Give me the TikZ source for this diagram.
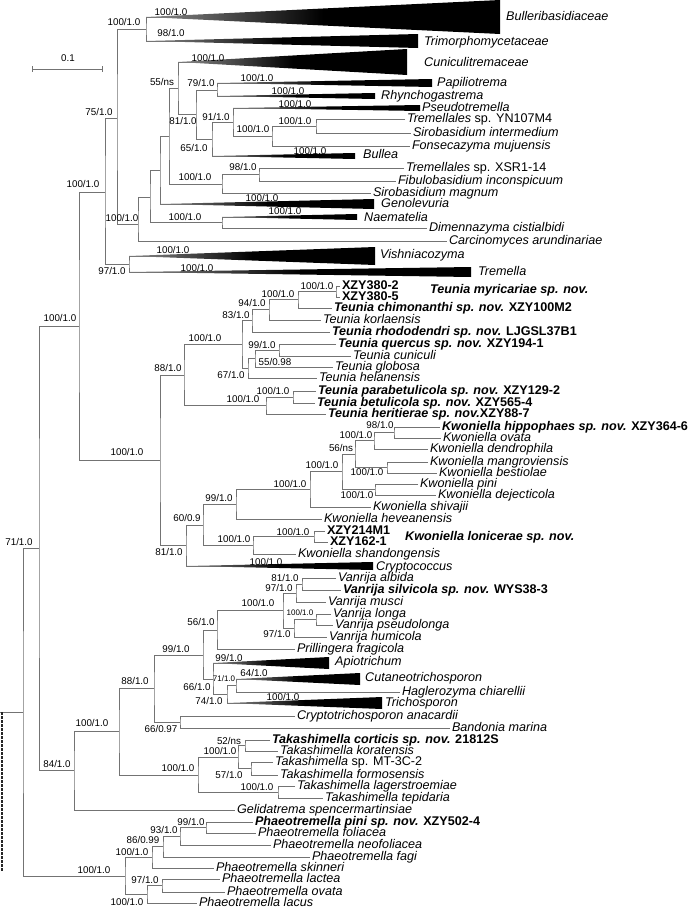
\documentclass[tikz,border=0pt]{standalone}
\usepackage{fontspec}
\setmainfont{Liberation Sans}
\newcommand\taxfont{\fontsize{12.6}{14}\selectfont}
\newcommand\bsfont{\fontsize{9.8}{11}\selectfont}

\begin{document}
\begin{tikzpicture}[x=1pt,y=-1pt,
  br/.style={draw=black!55,line width=0.75pt},
  leaf/.style={anchor=west,inner sep=1pt,outer sep=1pt,text height=8.5pt,text depth=2pt,font=\taxfont\itshape},
  grp/.style={anchor=west,inner sep=0pt,text height=8.5pt,text depth=2pt,font=\taxfont\itshape},
  bs/.style={inner sep=0pt,font=\bsfont},
  bss/.style={inner sep=0pt,font=\fontsize{8}{9}\selectfont},
  clade/.style={left color=black!45,right color=black,middle color=black}]
 \fill[white] (0,0) rectangle (690,910);
 \useasboundingbox (0,0) rectangle (690,910);

 % scale bar
 \coordinate (sb1) at (32,69); \coordinate (sb2) at (102,69);
 \draw[br] (sb1) -- (sb2);
 \draw[br] (32,66) -- (32,72); \draw[br] (102,66) -- (102,72);
 \node[bs] (sbl) at (68,58) {0.1};

 % upper part
 \coordinate (a1) at (146,29);  \coordinate (a2) at (217,90);
 \coordinate (a3) at (316,126); \coordinate (a4) at (272,136);
 \coordinate (a5) at (233,122); \coordinate (a6) at (212,139);
 \coordinate (a7) at (196,114); \coordinate (a8) at (178,88);
 \coordinate (a9) at (259,174.5); \coordinate (a10) at (222,184);
 \coordinate (a11) at (169,136); \coordinate (a12) at (160,170);
 \coordinate (a13) at (222,222); \coordinate (a14) at (150,197);
 \coordinate (a15) at (138,224); \coordinate (a16) at (117,118);
 \coordinate (a17) at (129,264); \coordinate (a18) at (105,192);
 \coordinate (a19) at (79,326);  \coordinate (a20) at (39,548);
 \coordinate (root) at (23,712);

 \coordinate (bullE) at (500,17); \coordinate (trimE) at (418,41);
 \coordinate (cuniE) at (407,62); \coordinate (papiE) at (432,83);
 \coordinate (rhynE) at (375,96); \coordinate (pseuE) at (420,108);
 \coordinate (bullaE) at (355,156); \coordinate (genoE) at (374,204);
 \coordinate (naemE) at (357,217); \coordinate (vishE) at (375,256);
 \coordinate (tremE) at (471,272);

 \node[leaf] (yn107) at (405,119) {Tremellales \upshape sp. YN107M4};
 \node[leaf] (sint) at (411,133) {Sirobasidium intermedium};
 \node[leaf] (fons) at (410,146) {Fonsecazyma mujuensis};
 \node[leaf] (xsr) at (404,168) {Tremellales \upshape sp. XSR1-14};
 \node[leaf] (fibu) at (396,181) {Fibulobasidium inconspicuum};
 \node[leaf] (smag) at (371,193) {Sirobasidium magnum};
 \node[leaf] (dime) at (427,228) {Dimennazyma cistialbidi};
 \node[leaf] (carc) at (447,241) {Carcinomyces arundinariae};

 \draw[br] (trimE) -| (a1) |- (bullE);
 \draw[br] (papiE) -| (a2) |- (rhynE);
 \draw[br] (yn107) -| (a3) |- (sint);
 \draw[br] (a3) -| (a4) |- (fons);
 \draw[br] (pseuE) -| (a5) |- (a4);
 \draw[br] (a5) -| (a6) |- (bullaE);
 \draw[br] (a2) -| (a7) |- (a6);
 \draw[br] (cuniE) -| (a8) |- (a7);
 \draw[br] (xsr) -| (a9) |- (fibu);
 \draw[br] (a9) -| (a10) |- (smag);
 \draw[br] (a8) -| (a11) |- (a10);
 \draw[br] (a11) -| (a12) |- (genoE);
 \draw[br] (naemE) -| (a13) |- (dime);
 \draw[br] (a12) -| (a14) |- (a13);
 \draw[br] (a14) -| (a15) |- (carc);
 \draw[br] (a1) -| (a16) |- (a15);
 \draw[br] (vishE) -| (a17) |- (tremE);
 \draw[br] (a16) -| (a18) |- (a17);

 \shade[clade] (146,17) -- (500,0) -- (500,34) -- cycle;
 \shade[clade] (146,41) -- (418,34) -- (418,48) -- cycle;
 \shade[clade] (178,62) -- (407,49) -- (407,75) -- cycle;
 \shade[clade] (217,83) -- (432,79) -- (432,87) -- cycle;
 \shade[clade] (217,96) -- (375,93) -- (375,99) -- cycle;
 \shade[clade] (233,108) -- (420,105) -- (420,111) -- cycle;
 \shade[clade] (212,156) -- (355,153) -- (355,159) -- cycle;
 \shade[clade] (160,204) -- (374,199) -- (374,209) -- cycle;
 \shade[clade] (222,217) -- (357,214) -- (357,220) -- cycle;
 \shade[clade] (129,256) -- (375,247) -- (375,265) -- cycle;
 \shade[clade] (129,272) -- (471,267) -- (471,277) -- cycle;

 \node[grp] (bull) at (506,17) {Bulleribasidiaceae};
 \node[grp] (trim) at (424,42) {Trimorphomycetaceae};
 \node[grp] (cuni) at (424,63) {Cuniculitremaceae};
 \node[grp] (papi) at (437,83) {Papiliotrema};
 \node[grp] (rhyn) at (381,96) {Rhynchogastrema};
 \node[grp] (pseu) at (422,108) {Pseudotremella};
 \node[grp] (bulla) at (363,155) {Bullea};
 \node[grp] (geno) at (381,204.5) {Genolevuria};
 \node[grp] (naem) at (364,218) {Naematelia};
 \node[grp] (vish) at (380,255) {Vishniacozyma};
 \node[grp] (trem) at (478,272) {Tremella};

 % Teunia
 \coordinate (b1) at (336,291.5);
 \node[leaf] (x3802) at (340,286) {\upshape\bfseries XZY380-2};
 \node[leaf] (x3805) at (340,297) {\upshape\bfseries XZY380-5};
 \draw[br] (x3802) -| (b1) |- (x3805);
 \node[grp] (myri) at (430,290) {\bfseries Teunia myricariae sp. nov.};
 \coordinate (b2) at (298,299);
 \node[leaf] (chim) at (332,308) {\bfseries Teunia chimonanthi sp. nov. \upshape XZY100M2};
 \draw[br] (b1) -| (b2) |- (chim);
 \coordinate (b3) at (269,309);
 \node[leaf] (korl) at (321,320) {Teunia korlaensis};
 \draw[br] (b2) -| (b3) |- (korl);
 \coordinate (b4) at (252,320);
 \node[leaf] (rhod) at (330,332) {\bfseries Teunia rhododendri sp. nov. \upshape LJGSL37B1};
 \draw[br] (b3) -| (b4) |- (rhod);
 \coordinate (b5) at (279,350);
 \node[leaf] (quer) at (336,344) {\bfseries Teunia quercus sp. nov. \upshape XZY194-1};
 \node[leaf] (tcun) at (351,356) {Teunia cuniculi};
 \draw[br] (quer) -| (b5) |- (tcun);
 \coordinate (b6) at (255,358);
 \node[leaf] (glob) at (333,367) {Teunia globosa};
 \draw[br] (b5) -| (b6) |- (glob);
 \coordinate (b7) at (248,368);
 \node[leaf] (hela) at (317,378) {Teunia helanensis};
 \draw[br] (b6) -| (b7) |- (hela);
 \coordinate (b8) at (242,344);
 \draw[br] (b4) -| (b8) |- (b7);
 \coordinate (b9) at (293,397);
 \node[leaf] (parb) at (316,391) {\bfseries Teunia parabetulicola sp. nov. \upshape XZY129-2};
 \node[leaf] (betu) at (315,403) {\bfseries Teunia betulicola sp. nov. \upshape XZY565-4};
 \draw[br] (parb) -| (b9) |- (betu);
 \coordinate (b10) at (266,405.5);
 \node[leaf] (heri) at (326,414) {\bfseries Teunia heritierae sp. nov.\upshape XZY88-7};
 \draw[br] (b9) -| (b10) |- (heri);
 \coordinate (b11) at (184,375);
 \draw[br] (b8) -| (b11) |- (b10);

 % Kwoniella
 \coordinate (k1) at (394,432.5);
 \node[leaf] (hipp) at (440,427) {\bfseries Kwoniella hippophaes sp. nov. \upshape XZY364-6};
 \node[leaf] (kova) at (441,438) {Kwoniella ovata};
 \draw[br] (hipp) -| (k1) |- (kova);
 \coordinate (k2) at (374,440.5);
 \node[leaf] (dend) at (428,449) {Kwoniella dendrophila};
 \draw[br] (k1) -| (k2) |- (dend);
 \coordinate (k3) at (387,467.5);
 \node[leaf] (mang) at (428,462) {Kwoniella mangroviensis};
 \node[leaf] (best) at (437,473) {Kwoniella bestiolae};
 \draw[br] (mang) -| (k3) |- (best);
 \coordinate (k4) at (355,454);
 \draw[br] (k2) -| (k4) |- (k3);
 \coordinate (k5) at (375,489);
 \node[leaf] (kpin) at (418,484) {Kwoniella pini};
 \node[leaf] (deje) at (436,495) {Kwoniella dejecticola};
 \draw[br] (kpin) -| (k5) |- (deje);
 \coordinate (k6) at (342,471.5);
 \draw[br] (k4) -| (k6) |- (k5);
 \coordinate (k7) at (310,489);
 \node[leaf] (shiv) at (371,507) {Kwoniella shivajii};
 \draw[br] (k6) -| (k7) |- (shiv);
 \coordinate (k8) at (236,504);
 \node[leaf] (heve) at (322,519) {Kwoniella heveanensis};
 \draw[br] (k7) -| (k8) |- (heve);
 \coordinate (k9) at (314,536.5);
 \node[leaf] (x214) at (325,531) {\upshape\bfseries XZY214M1};
 \node[leaf] (x162) at (328,542) {\upshape\bfseries XZY162-1};
 \draw[br] (x214) -| (k9) |- (x162);
 \node[grp] (loni) at (405,537) {\bfseries Kwoniella lonicerae sp. nov.};
 \coordinate (k10) at (253,545);
 \node[leaf] (shan) at (296,554) {Kwoniella shandongensis};
 \draw[br] (k9) -| (k10) |- (shan);
 \coordinate (k11) at (203,525);
 \draw[br] (k8) -| (k11) |- (k10);
 \coordinate (k12) at (186,545.5);
 \coordinate (crypE) at (373,566);
 \draw[br] (k11) -| (k12) |- (crypE);
 \shade[clade] (186,566) -- (373,562) -- (373,570) -- cycle;
 \node[grp] (cryp) at (376,567) {Cryptococcus};
 \coordinate (b12) at (160,460);
 \draw[br] (b11) -| (b12) |- (k12);
 \draw[br] (a18) -| (a19) |- (b12);

 % Vanrija to Bandonia
 \coordinate (v1) at (302,584);
 \node[leaf] (albi) at (336,578) {Vanrija albida};
 \node[leaf] (silv) at (341,590) {\bfseries Vanrija silvicola sp. nov. \upshape WYS38-3};
 \draw[br] (albi) -| (v1) |- (silv);
 \coordinate (v2) at (296,593);
 \node[leaf] (musc) at (326,602) {Vanrija musci};
 \draw[br] (v1) -| (v2) |- (musc);
 \coordinate (v3) at (316,619.5);
 \node[leaf] (vlon) at (331,614) {Vanrija longa};
 \node[leaf] (vpse) at (333,625) {Vanrija pseudolonga};
 \draw[br] (vlon) -| (v3) |- (vpse);
 \coordinate (v4) at (294,628);
 \node[leaf] (humi) at (327,637) {Vanrija humicola};
 \draw[br] (v3) -| (v4) |- (humi);
 \coordinate (v5) at (283,610.5);
 \draw[br] (v2) -| (v5) |- (v4);
 \coordinate (v6) at (217,630);
 \node[leaf] (pril) at (295,649) {Prillingera fragicola};
 \draw[br] (v5) -| (v6) |- (pril);
 \coordinate (t1) at (236,685.5);
 \coordinate (cutaE) at (360,679);
 \node[leaf] (hagl) at (400,692) {Haglerozyma chiarellii};
 \draw[br] (cutaE) -| (t1) |- (hagl);
 \coordinate (t2) at (227,694);
 \coordinate (trchE) at (382,703);
 \draw[br] (t1) -| (t2) |- (trchE);
 \coordinate (t3) at (213,679);
 \coordinate (apioE) at (329,663);
 \draw[br] (apioE) -| (t3) |- (t2);
 \coordinate (t4) at (203,655);
 \draw[br] (v6) -| (t4) |- (t3);
 \shade[clade] (213,663) -- (329,657) -- (329,669) -- cycle;
 \shade[clade] (236,679) -- (360,673) -- (360,685) -- cycle;
 \shade[clade] (227,703) -- (382,697) -- (382,709) -- cycle;
 \node[grp] (apio) at (335,662) {Apiotrichum};
 \node[grp] (cuta) at (365,678) {Cutaneotrichosporon};
 \node[grp] (trch) at (385,703) {Trichosporon};
 \coordinate (t5) at (180,722);
 \node[leaf] (cryt) at (295,716) {Cryptotrichosporon anacardii};
 \node[leaf] (band) at (450,728) {Bandonia marina};
 \draw[br] (cryt) -| (t5) |- (band);
 \coordinate (t6) at (154,688.5);
 \draw[br] (t4) -| (t6) |- (t5);

 % Takashimella
 \coordinate (s1) at (245,745.5);
 \node[leaf] (cort) at (270,740) {\bfseries Takashimella corticis sp. nov. \upshape 21812S};
 \node[leaf] (kora) at (278,751) {Takashimella koratensis};
 \draw[br] (cort) -| (s1) |- (kora);
 \coordinate (s2) at (251,768.5);
 \node[leaf] (mt3c) at (273,762) {Takashimella \upshape sp. MT-3C-2};
 \node[leaf] (form) at (278,775) {Takashimella formosensis};
 \draw[br] (mt3c) -| (s2) |- (form);
 \coordinate (s3) at (238,757);
 \draw[br] (s1) -| (s3) |- (s2);
 \coordinate (s4) at (278,792);
 \node[leaf] (lage) at (295,786) {Takashimella lagerstroemiae};
 \node[leaf] (tepi) at (323,798) {Takashimella tepidaria};
 \draw[br] (lage) -| (s4) |- (tepi);
 \coordinate (s5) at (198,775);
 \draw[br] (s3) -| (s5) |- (s4);
 \coordinate (t7) at (119,731);
 \draw[br] (t6) -| (t7) |- (s5);
 \coordinate (t8) at (74,770);
 \node[leaf] (geli) at (235,810) {Gelidatrema spencermartinsiae};
 \draw[br] (t7) -| (t8) |- (geli);
 \draw[br] (a19) -| (a20) |- (t8);

 % Phaeotremella
 \coordinate (p1) at (206,827.5);
 \node[leaf] (ppin) at (253,822) {\bfseries Phaeotremella pini sp. nov. \upshape XZY502-4};
 \node[leaf] (foli) at (256,833) {Phaeotremella foliacea};
 \draw[br] (ppin) -| (p1) |- (foli);
 \coordinate (p2) at (180,836);
 \node[leaf] (neof) at (271,845) {Phaeotremella neofoliacea};
 \draw[br] (p1) -| (p2) |- (neof);
 \coordinate (p3) at (163,846.5);
 \node[leaf] (fagi) at (310,857) {Phaeotremella fagi};
 \draw[br] (p2) -| (p3) |- (fagi);
 \coordinate (p4) at (152,857.5);
 \node[leaf] (skin) at (214,868) {Phaeotremella skinneri};
 \draw[br] (p3) -| (p4) |- (skin);
 \coordinate (p5) at (162,885.5);
 \node[leaf] (lact) at (220,879) {Phaeotremella lactea};
 \node[leaf] (pova) at (225,892) {Phaeotremella ovata};
 \draw[br] (lact) -| (p5) |- (pova);
 \coordinate (p6) at (147,894.5);
 \node[leaf] (lacu) at (197,903) {Phaeotremella lacus};
 \draw[br] (p5) -| (p6) |- (lacu);
 \coordinate (p7) at (125,876);
 \draw[br] (p4) -| (p7) |- (p6);
 \draw[br] (a20) -| (root) |- (p7);
 \coordinate (base) at (0,712);
 \draw[br] (base) -- (root);
 \draw[black!85,line width=2pt,dash pattern=on 2.5pt off 1.5pt] (1.5,712) -- (1.5,872);

 % support values
 \node[bs] (s1) at (171,12) {100/1.0};
 \node[bs] (s2) at (124,22) {100/1.0};
 \node[bs] (s3) at (171,33) {98/1.0};
 \node[bs] (s4) at (208,58) {100/1.0};
 \node[bs] (s5) at (162,82) {55/ns};
 \node[bs] (s6) at (201,83) {79/1.0};
 \node[bs] (s7) at (183,121) {81/1.0};
 \node[bs] (s8) at (257,78) {100/1.0};
 \node[bs] (s9) at (288,91) {100/1.0};
 \node[bs] (s10) at (295,104) {100/1.0};
 \node[bs] (s11) at (216,117) {91/1.0};
 \node[bs] (s12) at (253,129) {100/1.0};
 \node[bs] (s13) at (295,121) {100/1.0};
 \node[bs] (s14) at (194,148) {65/1.0};
 \node[bs] (s15) at (310,151) {100/1.0};
 \node[bs] (s16) at (243,167) {98/1.0};
 \node[bs] (s17) at (195,177) {100/1.0};
 \node[bs] (s18) at (262,198) {100/1.0};
 \node[bs] (s19) at (185,217) {100/1.0};
 \node[bs] (s20) at (285,211) {100/1.0};
 \node[bs] (s21) at (99,112) {75/1.0};
 \node[bs] (s22) at (122,218) {100/1.0};
 \node[bs] (s23) at (83,184) {100/1.0};
 \node[bs] (s24) at (173,250) {100/1.0};
 \node[bs] (s25) at (197,268) {100/1.0};
 \node[bs] (s26) at (112,271) {97/1.0};
 \node[bs] (s27) at (60,318) {100/1.0};
 \node[bs] (s28) at (205,338) {100/1.0};
 \node[bs] (s29) at (168,368) {88/1.0};
 \node[bs] (s30) at (231,375) {67/1.0};
 \node[bs] (s31) at (127,452) {100/1.0};
 \node[bs] (s32) at (317,286) {100/1.0};
 \node[bs] (s33) at (278,294) {100/1.0};
 \node[bs] (s34) at (252,303) {94/1.0};
 \node[bs] (s35) at (236,315) {83/1.0};
 \node[bs] (s36) at (262,345) {99/1.0};
 \node[bs] (s37) at (275,362) {55/0.98};
 \node[bs] (s38) at (273,391) {100/1.0};
 \node[bs] (s39) at (243,399) {100/1.0};
 \node[bs] (s40) at (380,425) {98/1.0};
 \node[bs] (s41) at (356,435) {100/1.0};
 \node[bs] (s42) at (341,448) {56/ns};
 \node[bs] (s43) at (322,465) {100/1.0};
 \node[bs] (s44) at (367,472) {100/1.0};
 \node[bs] (s45) at (290,484) {100/1.0};
 \node[bs] (s46) at (357,495) {100/1.0};
 \node[bs] (s47) at (219,498) {99/1.0};
 \node[bs] (s48) at (187,518) {60/0.9};
 \node[bs] (s49) at (234,539) {100/1.0};
 \node[bs] (s50) at (293,532) {100/1.0};
 \node[bs] (s51) at (169,552) {81/1.0};
 \node[bs] (s52) at (266,562) {100/1.0};
 \node[bs] (s53) at (19,542) {71/1.0};
 \node[bs] (s54) at (285,578) {81/1.0};
 \node[bs] (s55) at (279,588) {97/1.0};
 \node[bs] (s56) at (258,603) {100/1.0};
 \node[bss] (s57) at (300,613) {100/1.0};
 \node[bs] (s58) at (277,634) {97/1.0};
 \node[bs] (s59) at (201,622) {56/1.0};
 \node[bs] (s60) at (176,649) {99/1.0};
 \node[bs] (s61) at (229,658) {99/1.0};
 \node[bs] (s62) at (254,673) {64/1.0};
 \node[bss] (s63) at (224,679) {71/1.0};
 \node[bs] (s64) at (197,687) {66/1.0};
 \node[bs] (s65) at (209,701) {74/1.0};
 \node[bs] (s66) at (283,697) {100/1.0};
 \node[bs] (s67) at (135,681) {88/1.0};
 \node[bs] (s68) at (161,729) {66/0.97};
 \node[bs] (s69) at (92,723) {100/1.0};
 \node[bs] (s70) at (229,741) {52/ns};
 \node[bs] (s71) at (220,751) {100/1.0};
 \node[bs] (s72) at (229,775) {57/1.0};
 \node[bs] (s73) at (178,768) {100/1.0};
 \node[bs] (s74) at (257,787) {100/1.0};
 \node[bs] (s75) at (57,764) {84/1.0};
 \node[bs] (s76) at (191,822) {99/1.0};
 \node[bs] (s77) at (164,830) {93/1.0};
 \node[bs] (s78) at (143,840) {86/0.99};
 \node[bs] (s79) at (132,852) {100/1.0};
 \node[bs] (s80) at (94,870) {100/1.0};
 \node[bs] (s81) at (145,880) {97/1.0};
 \node[bs] (s82) at (127,902) {100/1.0};
\end{tikzpicture}
\end{document}
